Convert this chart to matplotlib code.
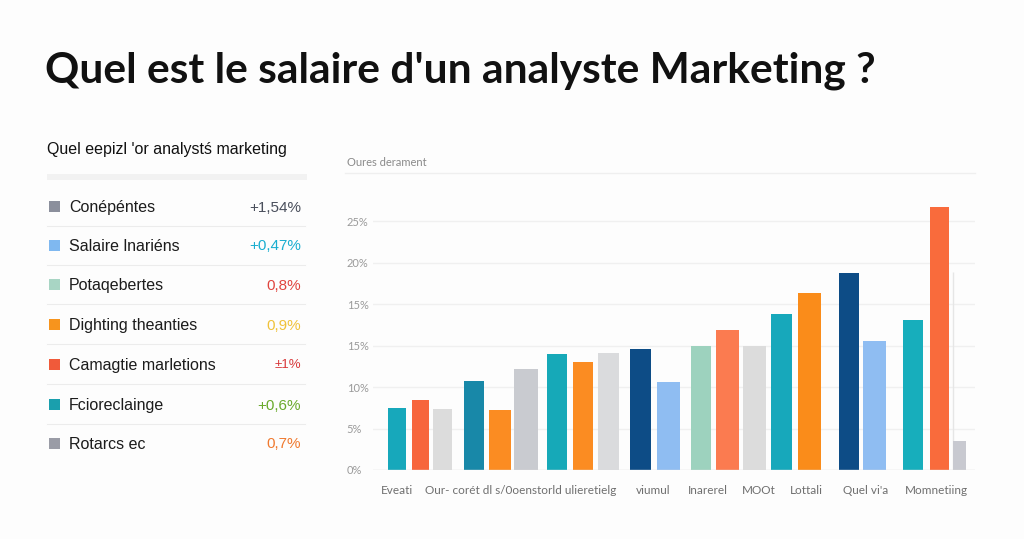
import matplotlib
matplotlib.use('Agg')
import matplotlib.pyplot as plt
from matplotlib.patches import Rectangle

# ---------------- data ----------------
title = "Quel est le salaire d'un analyste Marketing ?"
panel_title = "Quel eepizl ʹor analystś marketing"

legend_labels = ["Conépéntes", "Salaire lnariéns", "Potaqebertes", "Dighting theanties",
                 "Camagtie marletions", "Fcioreclainge", "Rotarcs ec"]
legend_values = ["+1,54%", "+0,47%", "0,8%", "0,9%", "±1%", "+0,6%", "0,7%"]
legend_square_colors = ["#8b8f9c", "#7fb8f0", "#a8d5c4", "#f7941d", "#f05a3a", "#1a9fad", "#9a9ca6"]
legend_value_colors = ["#4a4f5c", "#1aaed0", "#e0453e", "#f0c23a", "#d8383a", "#6aaa2c", "#f07a30"]

chart_subtitle = "Oures derament"
ytick_values = [0, 5, 10, 15, 20, 25, 30]
ytick_labels = ["0%", "5%", "10%", "15%", "15%", "20%", "25%"]

bar_values = [7.5, 8.45, 7.3, 10.7, 7.25, 12.15, 14.0, 13.0, 14.05, 14.6, 10.55,
              15.0, 16.85, 15.0, 18.8, 21.3, 23.75, 15.55, 18.05, 31.75, 3.55]
bar_colors = ["#17a8bb", "#f7653c", "#dcdcdc", "#1888a8", "#fb8c22", "#c9cbd0",
              "#16a9b8", "#fb8c22", "#dadbdd", "#0d4c86", "#8fbdf2", "#9dd2be",
              "#fb7b50", "#dcdcdc", "#17a8bb", "#fa8c1a", "#0d4c86", "#8fbdf2",
              "#17aebc", "#f96b3c", "#c8c9d0"]

x_labels = ["Eveati", "Our- corét dl s/0oenstorld ulieretielg", "viumul", "Inarerel",
            "MOOt", "Lottali", "Quel vi'a", "Momnetiing"]

# ---------------- layout ----------------
bar_pos = [0, 0.9, 1.75, 2.95, 3.95, 4.95, 6.15, 7.15, 8.15, 9.35, 10.45,
           11.7, 12.7, 13.75, 14.8, 15.85, 17.4, 18.35, 19.85, 20.85, 21.65]
bar_w = [0.7, 0.67, 0.73, 0.77, 0.85, 0.92, 0.77, 0.77, 0.81, 0.81, 0.88,
         0.77, 0.88, 0.92, 0.81, 0.88, 0.77, 0.88, 0.77, 0.73, 0.5]
x_label_pos = [0, 4.77, 9.85, 11.96, 13.92, 15.73, 18.04, 20.73]

W, H = 1024, 539
fig = plt.figure(figsize=(W / 100, H / 100), dpi=100)
fig.patch.set_facecolor("#fdfdfd")

ov = fig.add_axes([0, 0, 1, 1])
ov.set_xlim(0, W)
ov.set_ylim(H, 0)
ov.axis("off")
ov.patch.set_alpha(0)

FONT = ["Lato", "DejaVu Sans"]
SANS = ["Liberation Sans", "DejaVu Sans"]

# main title fitted to width
t = ov.text(45, 83, title, fontsize=30, fontweight="bold", family=FONT,
            color="#111111", va="baseline", ha="left")
fig.canvas.draw()
bb = t.get_window_extent(fig.canvas.get_renderer())
t.set_fontsize(30 * 828 / bb.width)

# left panel
ov.text(47, 148, panel_title, fontsize=11.5, family=SANS, color="#111111",
        va="center_baseline", ha="left")
ov.add_patch(Rectangle((47, 174), 260, 6, color="#f2f2f2", lw=0))
row_y = [206, 245, 284, 324, 364, 404, 443]
for i, (lab, val, sc, vc) in enumerate(zip(legend_labels, legend_values,
                                            legend_square_colors, legend_value_colors)):
    y = row_y[i]
    ov.add_patch(Rectangle((49, y - 5.5), 11, 11, color=sc, lw=0))
    ov.text(69, y, lab, fontsize=11.5, family=SANS, color="#1c1c1c",
            va="center_baseline", ha="left")
    ov.text(301, y, val, fontsize=11 if val != "±1%" else 9.5, family=SANS,
            color=vc, va="center_baseline", ha="right")
    if i < len(legend_labels) - 1:
        ym = (row_y[i] + row_y[i + 1]) / 2
        ov.plot([47, 305], [ym, ym], color="#ececec", lw=0.8)

# chart subtitle & top line
ov.text(347, 162, chart_subtitle, fontsize=8, family=FONT, color="#8a8a8a",
        va="center", ha="left")
ov.plot([345, 975], [173, 173], color="#efefef", lw=1)

# ---------------- bar chart ----------------
ax_left, ax_right, ax_bottom, ax_top = 373, 975, 470, 173
ax = fig.add_axes([ax_left / W, 1 - ax_bottom / H, (ax_right - ax_left) / W,
                   (ax_bottom - ax_top) / H])
ax.patch.set_alpha(0)
ax.set_xlim(-0.923, 22.23)
ax.set_ylim(0, 35.8)
ax.bar(bar_pos, bar_values, width=bar_w, color=bar_colors, zorder=3)
ax.vlines(21.38, 0, 23.9, color="#e6e6e6", lw=1, zorder=2)

for v in ytick_values[1:]:
    ax.axhline(v, color="#f0f0f0", lw=1, zorder=1)
ax.axhline(0, color="#dedede", lw=1, zorder=4)

ax.set_yticks(ytick_values, ytick_labels)
ax.tick_params(axis="y", length=0, pad=19, labelsize=8, labelcolor="#9a9a9a")
for lab in ax.get_yticklabels():
    lab.set_ha("left")
    lab.set_family(FONT)
ax.set_xticks(x_label_pos, x_labels)
ax.tick_params(axis="x", length=0, pad=11, labelsize=8.5, labelcolor="#6f6f6f")
for lab in ax.get_xticklabels():
    lab.set_family(FONT)
for s in ax.spines.values():
    s.set_visible(False)

fig.savefig("out.png", dpi=100, facecolor=fig.get_facecolor())
